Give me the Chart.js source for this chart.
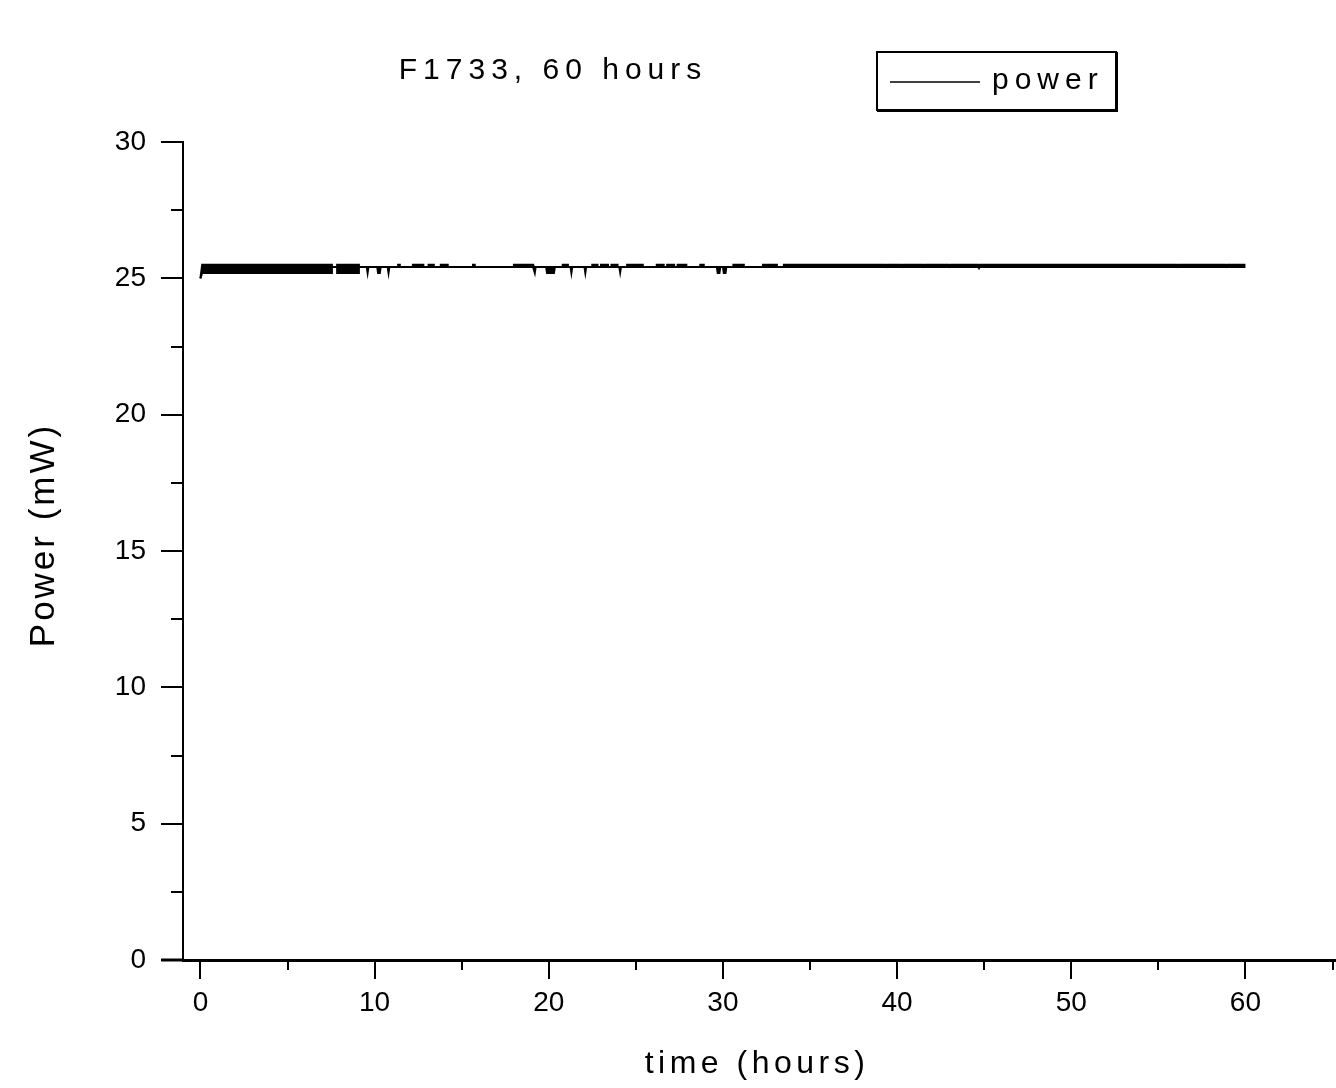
<!DOCTYPE html>
<html>
<head>
<meta charset="utf-8">
<title>F1733, 60 hours</title>
<script src="https://cdn.jsdelivr.net/npm/chart.js@4.4.0/dist/chart.umd.min.js"></script>
<style>
  html, body { margin: 0; padding: 0; background: #fff; }
  #chart { display: block; }
</style>
</head>
<body>
<canvas id="chart" width="1336" height="1088"></canvas>
<script>
const chartTitle = 'F1733, 60 hours';
const seriesLabel = 'power';
const xTitle = 'time (hours)';
const yTitle = 'Power (mW)';

const xTicks = [0, 10, 20, 30, 40, 50, 60];
const xMinorTicks = [5, 15, 25, 35, 45, 55, 65];
const yTicks = [0, 5, 10, 15, 20, 25, 30];
const yMinorTicks = [2.5, 7.5, 12.5, 17.5, 22.5, 27.5];

// the trace is too dense to resolve, so it is kept as a low/high envelope
// time in hours
const timeH = [
  0.0, 0.1, 7.55, 7.55, 7.85, 7.85, 9.1, 9.1,
  9.55, 9.6, 9.65, 10.15, 10.2, 10.3, 10.35, 10.75, 10.8, 10.85,
  11.35, 11.35, 11.45, 11.45, 12.2, 12.2, 12.8, 12.8, 13.1, 13.1, 13.4, 13.4, 13.8, 13.8, 14.2, 14.2,
  15.65, 15.65, 15.75, 15.75, 18.0, 18.0, 19.1, 19.1,
  19.15, 19.2, 19.25, 19.85, 19.9, 20.3, 20.35,
  20.8, 20.8, 21.1, 21.1, 21.25, 21.3, 21.35, 22.05, 22.1, 22.15,
  22.5, 22.5, 22.8, 22.8, 23.0, 23.0, 23.4, 23.4, 23.6, 23.6, 23.95, 23.95,
  24.05, 24.1, 24.15, 24.5, 24.5, 25.4, 25.4,
  26.2, 26.2, 26.6, 26.6, 26.8, 26.8, 27.2, 27.2, 27.4, 27.4, 27.9, 27.9,
  28.7, 28.7, 28.9, 28.9, 29.65, 29.7, 29.8, 29.85, 30.0, 30.05, 30.15, 30.2,
  30.6, 30.6, 31.2, 31.2, 32.3, 32.3, 33.1, 33.1,
  33.5, 33.5, 39.35, 39.4, 39.45, 40.25, 40.3, 40.35, 41.45, 41.5, 41.55, 42.95, 43.0, 43.05, 44.65, 44.7, 44.75,
  54.65, 54.7, 54.75, 56.05, 56.1, 56.15, 58.85, 58.9, 58.95, 60.0
];

// lower edge of the trace, mW
const powerLow = [
  25.0, 25.2, 25.2, 25.42, 25.42, 25.2, 25.2, 25.42,
  25.42, 25.2, 25.42, 25.42, 25.2, 25.2, 25.42, 25.42, 25.2, 25.42,
  25.42, 25.42, 25.42, 25.42, 25.42, 25.42, 25.42, 25.42, 25.42, 25.42, 25.42, 25.42, 25.42, 25.42, 25.42, 25.42,
  25.42, 25.42, 25.42, 25.42, 25.42, 25.42, 25.42, 25.42,
  25.42, 25.2, 25.42, 25.42, 25.2, 25.2, 25.42,
  25.42, 25.42, 25.42, 25.42, 25.42, 25.2, 25.42, 25.42, 25.2, 25.42,
  25.42, 25.42, 25.42, 25.42, 25.42, 25.42, 25.42, 25.42, 25.42, 25.42, 25.42, 25.42,
  25.42, 25.22, 25.42, 25.42, 25.42, 25.42, 25.42,
  25.42, 25.42, 25.42, 25.42, 25.42, 25.42, 25.42, 25.42, 25.42, 25.42, 25.42, 25.42,
  25.42, 25.42, 25.42, 25.42, 25.42, 25.2, 25.2, 25.42, 25.42, 25.2, 25.2, 25.42,
  25.42, 25.42, 25.42, 25.42, 25.42, 25.42, 25.42, 25.42,
  25.42, 25.42, 25.42, 25.42, 25.42, 25.42, 25.42, 25.42, 25.42, 25.42, 25.42, 25.42, 25.42, 25.42, 25.42, 25.42, 25.42,
  25.42, 25.42, 25.42, 25.42, 25.42, 25.42, 25.42, 25.42, 25.42, 25.42
];

// upper edge of the trace, mW
const powerHigh = [
  25.0, 25.5, 25.5, 25.42, 25.42, 25.5, 25.5, 25.42,
  25.42, 25.42, 25.42, 25.42, 25.42, 25.42, 25.42, 25.42, 25.42, 25.42,
  25.42, 25.5, 25.5, 25.42, 25.42, 25.5, 25.5, 25.42, 25.42, 25.5, 25.5, 25.42, 25.42, 25.5, 25.5, 25.42,
  25.42, 25.5, 25.5, 25.42, 25.42, 25.5, 25.5, 25.42,
  25.42, 25.42, 25.42, 25.42, 25.42, 25.42, 25.42,
  25.42, 25.5, 25.5, 25.42, 25.42, 25.42, 25.42, 25.42, 25.42, 25.42,
  25.42, 25.5, 25.5, 25.42, 25.42, 25.5, 25.5, 25.42, 25.42, 25.5, 25.5, 25.42,
  25.42, 25.42, 25.42, 25.42, 25.5, 25.5, 25.42,
  25.42, 25.5, 25.5, 25.42, 25.42, 25.5, 25.5, 25.42, 25.42, 25.5, 25.5, 25.42,
  25.42, 25.5, 25.5, 25.42, 25.42, 25.42, 25.42, 25.42, 25.42, 25.42, 25.42, 25.42,
  25.42, 25.5, 25.5, 25.42, 25.42, 25.5, 25.5, 25.42,
  25.42, 25.5, 25.5, 25.44, 25.5, 25.5, 25.44, 25.5, 25.5, 25.44, 25.5, 25.5, 25.44, 25.5, 25.5, 25.44, 25.5,
  25.5, 25.44, 25.5, 25.5, 25.44, 25.5, 25.5, 25.44, 25.5, 25.5
];

const FONT = '"Liberation Sans", Arial, sans-serif';

function drawSpaced(ctx, text, x, y, spacing) {
  ctx.letterSpacing = spacing + 'px';
  ctx.fillText(text, x, y);
  ctx.letterSpacing = '0px';
}

// tick marks, axis stub, title, axis titles and the boxed legend
const decorPlugin = {
  id: 'decor',
  afterDraw(chart) {
    const { ctx, chartArea, scales: { x, y } } = chart;
    ctx.save();
    ctx.strokeStyle = '#000';
    ctx.fillStyle = '#000';
    ctx.lineWidth = 2;

    ctx.beginPath();
    yTicks.forEach(v => {
      const py = Math.round(y.getPixelForValue(v));
      ctx.moveTo(chartArea.left - 22, py);
      ctx.lineTo(chartArea.left, py);
    });
    yMinorTicks.forEach(v => {
      const py = Math.round(y.getPixelForValue(v));
      ctx.moveTo(chartArea.left - 12, py);
      ctx.lineTo(chartArea.left, py);
    });
    xTicks.forEach(v => {
      const px = Math.round(x.getPixelForValue(v));
      ctx.moveTo(px, chartArea.bottom);
      ctx.lineTo(px, chartArea.bottom + 19);
    });
    xMinorTicks.forEach(v => {
      const px = Math.round(x.getPixelForValue(v));
      ctx.moveTo(px, chartArea.bottom);
      ctx.lineTo(px, chartArea.bottom + 10);
    });
    ctx.stroke();

    // x axis runs a bit past the y axis on the left
    ctx.lineWidth = 3;
    ctx.beginPath();
    ctx.moveTo(161, chartArea.bottom);
    ctx.lineTo(chartArea.left, chartArea.bottom);
    ctx.stroke();

    ctx.textAlign = 'center';
    ctx.textBaseline = 'middle';
    ctx.font = '30px ' + FONT;
    drawSpaced(ctx, chartTitle, 553, 71, 6);

    ctx.font = '32px ' + FONT;
    drawSpaced(ctx, xTitle, 757, 1064, 4.5);

    ctx.save();
    ctx.translate(44, 535);
    ctx.rotate(-Math.PI / 2);
    ctx.font = '35px ' + FONT;
    drawSpaced(ctx, yTitle, 0, 0, 3);
    ctx.restore();

    // legend
    ctx.lineWidth = 2;
    ctx.strokeRect(877, 52, 239, 58);
    ctx.fillRect(1115, 52, 3, 60);
    ctx.fillRect(877, 109, 241, 3);
    ctx.lineWidth = 1.5;
    ctx.beginPath();
    ctx.moveTo(890, 82);
    ctx.lineTo(980, 82);
    ctx.stroke();
    ctx.textAlign = 'left';
    ctx.textBaseline = 'alphabetic';
    ctx.font = '30px ' + FONT;
    drawSpaced(ctx, chart.data.datasets[0].label, 992, 89, 6);

    ctx.restore();
  }
};

new Chart(document.getElementById('chart'), {
  type: 'line',
  data: {
    datasets: [{
      label: seriesLabel,
      data: timeH.map((t, i) => ({ x: t, y: powerLow[i] })),
      borderColor: '#000',
      borderWidth: 2,
      pointRadius: 0,
      tension: 0,
      fill: false
    }, {
      label: seriesLabel + ' (upper)',
      data: timeH.map((t, i) => ({ x: t, y: powerHigh[i] })),
      borderColor: '#000',
      backgroundColor: '#000',
      borderWidth: 2,
      pointRadius: 0,
      tension: 0,
      fill: '-1'
    }]
  },
  options: {
    responsive: false,
    animation: false,
    layout: { padding: { top: 142, left: 0, right: 0, bottom: 0 } },
    plugins: {
      legend: { display: false },
      title: { display: false },
      tooltip: { enabled: false }
    },
    scales: {
      x: {
        type: 'linear',
        min: -1,
        max: 65.2,
        afterBuildTicks: s => { s.ticks = xTicks.map(v => ({ value: v })); },
        afterFit: s => { s.height = 128; },
        grid: { display: false, drawTicks: false },
        border: { color: '#000', width: 3 },
        ticks: {
          padding: 26,
          color: '#000',
          autoSkip: false,
          maxRotation: 0,
          font: { family: FONT, size: 28 }
        }
      },
      y: {
        min: 0,
        max: 30,
        afterBuildTicks: s => { s.ticks = yTicks.map(v => ({ value: v })); },
        afterFit: s => { s.width = 183; },
        grid: { display: false, drawTicks: false },
        border: { color: '#000', width: 2 },
        ticks: {
          padding: 37,
          color: '#000',
          font: { family: FONT, size: 28 }
        }
      }
    }
  },
  plugins: [decorPlugin]
});
</script>
</body>
</html>
